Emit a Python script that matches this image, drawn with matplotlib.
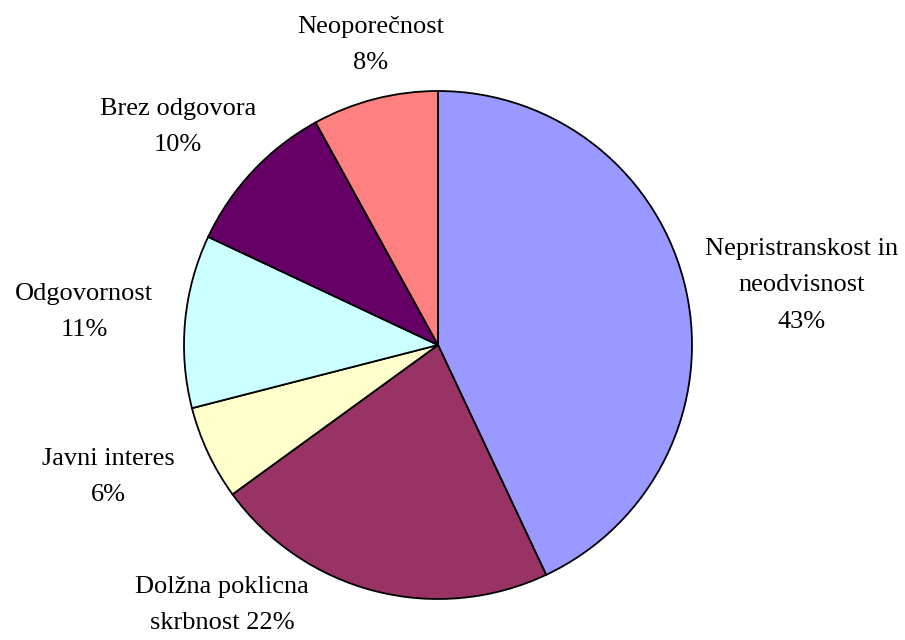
import matplotlib
matplotlib.use("Agg")
import matplotlib.pyplot as plt
import numpy as np

# Survey answers (shares in percent), clockwise from 12 o'clock
categories = ["Nepristranskost in\nneodvisnost", "Dolžna poklicna\nskrbnost", "Javni interes",
              "Odgovornost", "Brez odgovora", "Neoporečnost"]
values = [43, 22, 6, 11, 10, 8]
colors = ["#9999FF", "#993366", "#FFFFCC", "#CCFFFF", "#660066", "#FF8080"]

# Label placement in units of the pie radius
label_dx = [1.43, -0.850, -1.299, -1.394, -1.024, -0.264]
label_dy = [0.236, -1.024, -0.520, 0.130, 0.858, 1.181]
# the percentage shares the last line of this label
inline_pct = [False, True, False, False, False, False]

plt.rcParams["font.family"] = ["Liberation Serif", "DejaVu Serif"]

fig = plt.figure(figsize=(9.05, 6.4), dpi=100)
ax = fig.add_axes([0, 0, 1, 1])

wedges, _ = ax.pie(values, colors=colors, startangle=90, counterclock=False,
                   radius=1.0, wedgeprops=dict(edgecolor="black", linewidth=1.3))

for name, v, dx, dy, inl in zip(categories, values, label_dx, label_dy, inline_pct):
    txt = f"{name} {v}%" if inl else f"{name}\n{v}%"
    ax.text(dx, dy, txt, ha="center", va="center", fontsize=19,
            linespacing=1.85, color="black")

r_px = 254.0
cx, cy = 438.0, 345.0
ax.set_xlim(-cx / r_px, (905 - cx) / r_px)
ax.set_ylim(-(640 - cy) / r_px, cy / r_px)
ax.set_aspect("auto")
ax.axis("off")

fig.savefig("out.png", dpi=100, facecolor="white")
